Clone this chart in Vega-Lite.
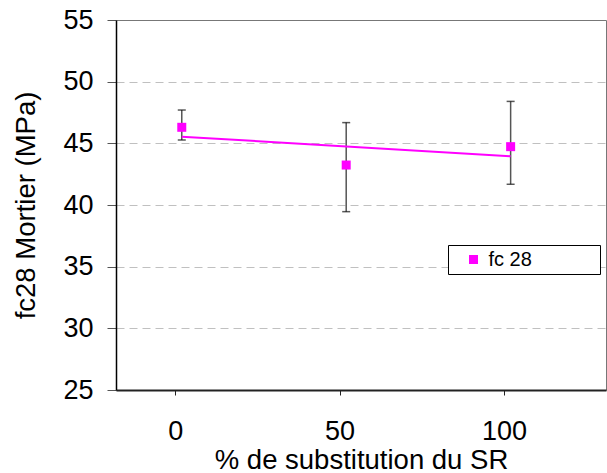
{
  "$schema": "https://vega.github.io/schema/vega-lite/v6.json",
  "width": 490,
  "height": 370,
  "autosize": {"type": "none"},
  "padding": {"left": 116, "top": 20, "right": 1, "bottom": 83},
  "background": "white",
  "config": {
    "font": "Liberation Sans",
    "view": {"stroke": "#777777", "strokeWidth": 1}
  },
  "datasets": {
    "points": [
      {"x": 2, "y": 46.3, "low": 45.27, "high": 47.7, "series": "fc 28"},
      {"x": 52, "y": 43.24, "low": 39.46, "high": 46.68, "series": "fc 28"},
      {"x": 102, "y": 44.73, "low": 41.68, "high": 48.4, "series": "fc 28"}
    ],
    "trend": [
      {"x": 2, "y": 45.54},
      {"x": 102, "y": 43.95}
    ]
  },
  "encoding": {
    "x": {
      "type": "quantitative",
      "scale": {"domain": [-18, 131], "nice": false, "zero": false},
      "axis": {
        "values": [0, 50, 100],
        "title": "% de substitution du SR",
        "titleFontSize": 27.5,
        "titleFontWeight": "normal",
        "titleColor": "black",
        "titlePadding": 2,
        "labelFontSize": 27,
        "labelColor": "black",
        "labelPadding": 23,
        "tickSize": 5,
        "tickColor": "#222222",
        "domainColor": "#222222",
        "domainWidth": 2,
        "grid": false
      }
    },
    "y": {
      "type": "quantitative",
      "scale": {"domain": [25, 55], "nice": false, "zero": false},
      "axis": {
        "values": [25, 30, 35, 40, 45, 50, 55],
        "title": "fc28 Mortier (MPa)",
        "titleFontSize": 27.5,
        "titleFontWeight": "normal",
        "titleColor": "black",
        "titlePadding": 22,
        "labelFontSize": 27,
        "labelColor": "black",
        "labelPadding": 14,
        "tickSize": 9,
        "tickColor": "#555555",
        "domainColor": "black",
        "domainWidth": 1.5,
        "grid": true,
        "gridColor": "#c0c0c0",
        "gridDash": [8, 5],
        "gridWidth": 1,
        "gridOpacity": {"condition": {"test": "datum.value === 55 || datum.value === 25", "value": 0}, "value": 1}
      }
    }
  },
  "layer": [
    {
      "data": {"name": "points"},
      "mark": {"type": "rule", "color": "#555555", "strokeWidth": 1.5},
      "encoding": {
        "x": {"field": "x"},
        "y": {"field": "low"},
        "y2": {"field": "high"}
      }
    },
    {
      "data": {"name": "points"},
      "mark": {"type": "tick", "orient": "horizontal", "color": "#111111", "size": 8, "thickness": 1.5},
      "encoding": {
        "x": {"field": "x"},
        "y": {"field": "low"}
      }
    },
    {
      "data": {"name": "points"},
      "mark": {"type": "tick", "orient": "horizontal", "color": "#111111", "size": 8, "thickness": 1.5},
      "encoding": {
        "x": {"field": "x"},
        "y": {"field": "high"}
      }
    },
    {
      "data": {"name": "trend"},
      "mark": {"type": "line", "color": "#ff00ff", "strokeWidth": 2},
      "encoding": {
        "x": {"field": "x"},
        "y": {"field": "y"}
      }
    },
    {
      "data": {"name": "points"},
      "mark": {"type": "square", "size": 81, "opacity": 1, "strokeWidth": 0},
      "encoding": {
        "x": {"field": "x"},
        "y": {"field": "y"},
        "color": {
          "field": "series",
          "type": "nominal",
          "scale": {"range": ["#ff00ff"]},
          "legend": {
            "orient": "none",
            "legendX": 332,
            "legendY": 225,
            "title": "\u00a0",
            "titleOrient": "right",
            "titlePadding": 64,
            "titleFontSize": 20,
            "strokeColor": "black",
            "fillColor": "white",
            "padding": 4.5,
            "symbolType": "square",
            "symbolSize": 81,
            "symbolStrokeWidth": 0,
            "symbolOffset": 11,
            "labelOffset": 5,
            "labelFontSize": 20,
            "labelColor": "black",
            "labelLimit": 300
          }
        }
      }
    }
  ]
}
